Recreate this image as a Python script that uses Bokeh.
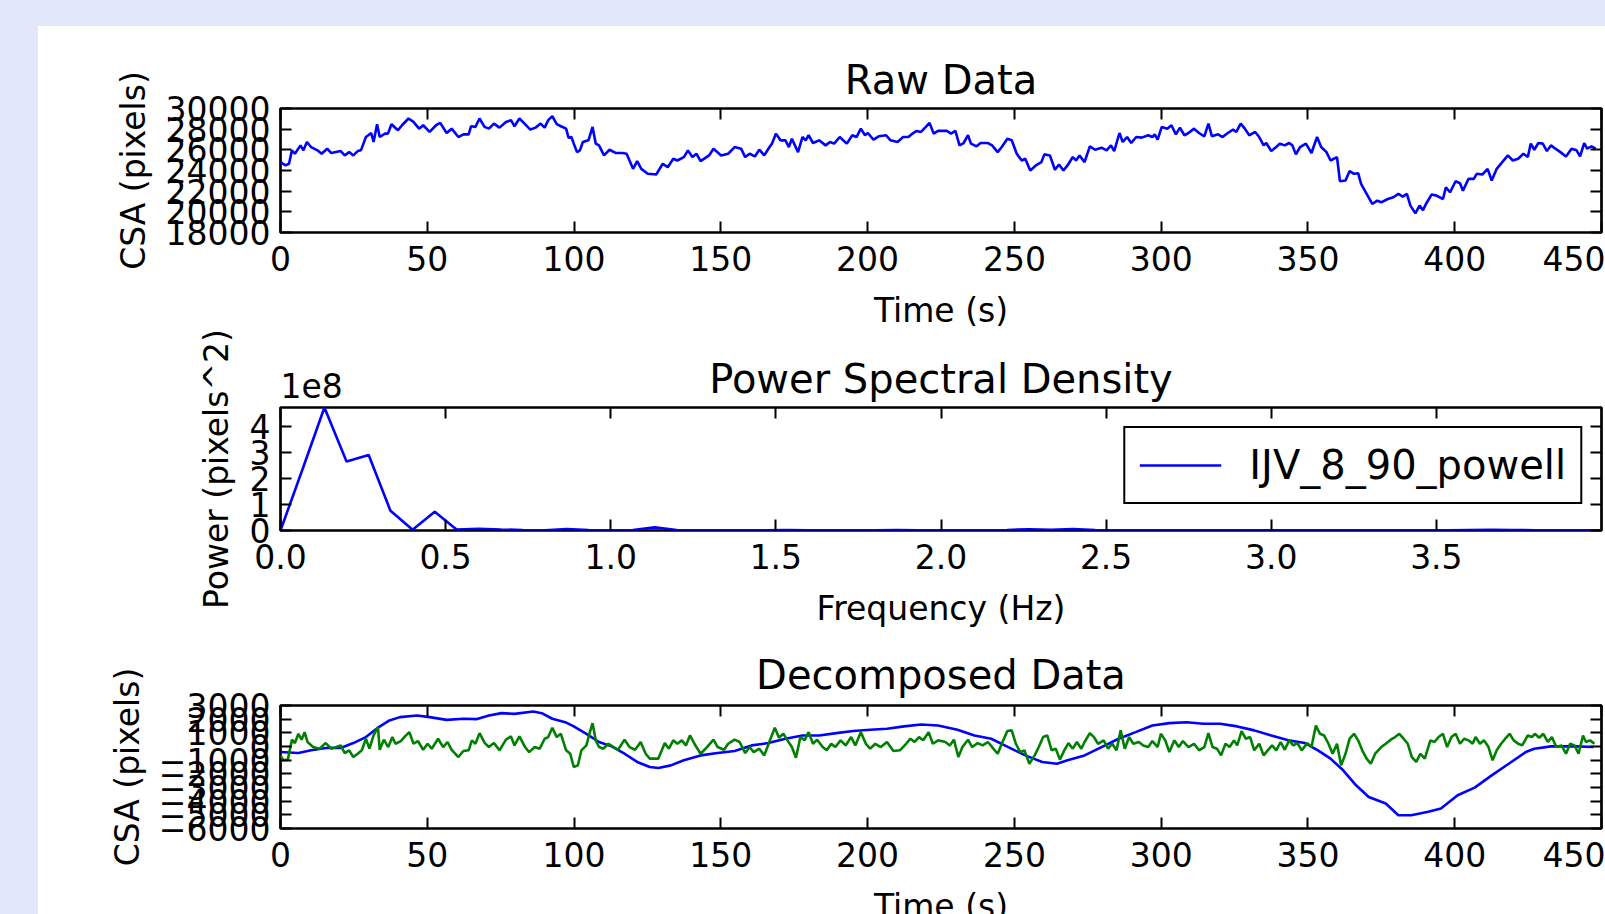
from bokeh.plotting import figure
from bokeh.layouts import column
from bokeh.models import (Range1d, LinearAxis, FixedTicker, CustomJSTickFormatter,
                          Legend, LegendItem, GlobalInlineStyleSheet)
from bokeh.embed import file_html
from bokeh.resources import INLINE

# ---------------- data ----------------
raw_time = [
    0.0, 1.7, 2.9, 3.9, 4.9, 6.8, 7.8, 9.0, 10.4, 12.6,
    14.0, 15.9, 17.3, 20.5, 21.9, 23.4, 24.8, 26.3, 27.4, 29.1,
    30.9, 31.7, 32.9, 33.8, 35.6, 36.6, 37.8, 40.0, 41.4, 43.6,
    45.3, 47.2, 48.6, 50.8, 53.0, 54.4, 56.6, 58.3, 60.6, 62.3,
    64.1, 64.9, 66.4, 67.8, 69.5, 71.0, 72.7, 74.6, 76.8, 78.5,
    79.7, 81.4, 83.3, 85.1, 86.9, 88.6, 90.0, 91.2, 92.6, 94.1,
    95.5, 97.3, 98.1, 99.1, 99.9, 101.0, 102.0, 103.0, 104.9, 106.3,
    107.4, 108.5, 110.2, 112.1, 114.3, 116.5, 117.9, 120.1, 121.5, 122.9,
    125.1, 128.0, 130.2, 131.9, 133.8, 135.2, 137.4, 138.8, 140.3, 141.7,
    143.1, 146.0, 147.5, 150.1, 152.5, 154.7, 156.9, 158.3, 159.8, 161.6,
    163.1, 164.8, 166.2, 167.4, 168.8, 170.3, 172.0, 173.2, 174.2, 176.3,
    177.8, 178.9, 179.9, 181.4, 183.5, 185.7, 187.2, 188.6, 190.5, 192.9,
    194.8, 196.2, 197.7, 199.1, 200.1, 202.0, 203.8, 206.3, 207.8, 210.2,
    212.1, 213.9, 215.3, 216.7, 218.2, 219.6, 221.1, 222.5, 224.0,
    227.0, 228.4, 229.9, 231.3, 232.7, 234.2, 235.2, 237.1, 238.5, 241.0,
    242.4, 244.3, 245.7, 247.6, 249.1, 250.8, 252.5, 253.7, 255.4, 257.3,
    259.2, 260.2, 262.1, 263.8, 265.2, 266.7, 268.1, 269.9, 271.0, 272.2,
    273.9, 275.7, 277.5, 279.7, 281.4, 282.9, 284.0, 285.8, 286.9, 288.4,
    289.8, 291.5, 293.4, 295.6, 297.0, 297.8, 298.8, 300.2, 302.1, 303.5,
    305.0, 306.4, 307.9, 309.3, 311.2, 312.9, 314.7, 316.1, 317.3, 319.4,
    320.9, 322.7, 324.5, 325.6, 327.1, 328.5, 330.0, 332.0, 333.4, 334.9,
    335.8, 337.5, 339.2, 340.4, 342.1, 343.6, 344.7, 345.9, 347.3, 349.3,
    351.2, 353.1, 354.5, 356.3, 357.7, 359.9, 360.9, 362.8, 364.2, 365.7,
    367.1, 368.1, 370.0, 371.9, 373.6, 375.0, 377.2, 379.1, 380.8, 382.3,
    383.7, 384.9, 386.6, 388.0, 389.2, 390.2, 392.1, 393.8, 396.0, 397.0,
    398.4, 400.3, 401.8, 402.8, 404.7, 406.5, 407.5, 409.4, 411.2, 412.6,
    414.3, 416.2, 418.1, 419.8, 421.6, 423.4, 424.9, 425.9, 427.1, 428.5,
    430.0, 431.4, 432.8, 434.3, 436.0, 437.9, 439.8, 441.5, 442.7, 444.1,
    445.1, 446.6, 448.0,
]
raw_csa = [
    24810, 24490, 24650, 25950, 25620, 26430, 25950, 26760, 26270, 25950,
    25620, 26110, 25690, 25880, 25460, 25780, 25460, 25880, 25950, 27240,
    27630, 26760, 28480, 27240, 27570, 27570, 28480, 27890, 28380, 29030,
    28700, 28050, 28380, 27730, 28380, 28610, 27630, 28050, 27240, 27500,
    27500, 28280, 28220, 29030, 28220, 28050, 28540, 28150, 28700, 28870,
    28280, 29030, 28480, 27960, 28150, 28540, 28150, 28870, 29250, 28480,
    28280, 28050, 27180, 27240, 26600, 25780, 25950, 26760, 26920, 28220,
    26600, 26430, 25460, 26010, 25690, 25690, 25620, 24160, 24910, 24160,
    23680, 23610, 24650, 24320, 25140, 24970, 25300, 25950, 25300, 25620,
    24910, 25460, 26110, 25460, 25620, 26270, 26110, 25300, 25620, 25360,
    26010, 25460, 26110, 26600, 27570, 26920, 26920, 26270, 27080, 25780,
    27240, 26920, 27410, 26660, 26920, 26430, 26760, 26600, 27240, 26600,
    27410, 27240, 28050, 27410, 27630, 26980, 27310, 27410, 26920, 26760,
    27240, 27240, 27570, 27830, 27730, 28150, 28610, 27570, 27830,
    27830, 27570, 27830, 26430, 26660, 27410, 26600, 26340, 26660, 26660,
    26430, 25780, 26270, 27080, 26920, 25620, 24970, 25140, 24000, 24490,
    24810, 25560, 25460, 24070, 24580, 24000, 24490, 25300, 24970, 25460,
    24810, 26340, 26010, 26210, 25950, 26430, 25880, 27630, 26760, 27240,
    26660, 27240, 27180, 27410, 27240, 27500, 26980, 28220, 28050, 28380,
    27500, 28150, 27410, 27630, 28050, 27630, 27310, 28540, 27310, 27500,
    27240, 27630, 27960, 27730, 28540, 28050, 27410, 27730, 27240, 26430,
    26660, 25880, 26270, 26600, 26430, 26660, 26430, 25560, 26270, 26600,
    25690, 27240, 26270, 25780, 24970, 25300, 22960, 23030, 23940, 23680,
    23740, 22700, 21730, 20760, 21080, 20920, 21240, 21410, 21730, 21470,
    21730, 20600, 19850, 20600, 20170, 20760, 21670, 21570, 21240, 22380,
    21890, 22960, 22770, 22050, 23190, 23190, 23680, 23610, 24160, 23030,
    24160, 24810, 25460, 24970, 25140, 25620, 25300, 26600, 26010, 26660,
    26600, 25880, 26430, 26110, 25780, 25360, 26110, 25950, 25360, 26660,
    26110, 26340, 26110,
]

psd_freq = [
    0.0, 0.067, 0.133, 0.2, 0.267, 0.333, 0.4, 0.467, 0.533, 0.6,
    0.667, 0.733, 0.8, 0.867, 0.933, 1.0, 1.067, 1.133, 1.2, 1.267,
    1.333, 1.4, 1.467, 1.533, 1.6, 1.667, 1.733, 1.8, 1.867, 1.933,
    2.0, 2.067, 2.133, 2.2, 2.267, 2.333, 2.4, 2.467, 2.533, 2.6,
    2.667, 2.733, 2.8, 2.867, 2.933, 3.0, 3.067, 3.133, 3.2, 3.267,
    3.333, 3.4, 3.467, 3.533, 3.6, 3.667, 3.733, 3.8, 3.867, 3.933, 4.0,
]
psd_power = [
    0.0, 2.37e8, 4.74e8, 2.66e8, 2.91e8, 0.76e8, 0.03e8, 0.72e8, 0.04e8, 0.07e8,
    0.04e8, 0.02e8, 0.01e8, 0.06e8, 0.02e8, 0.01e8, 0.02e8, 0.12e8, 0.02e8, 0.01e8,
    0.01e8, 0.01e8, 0.01e8, 0.02e8, 0.01e8, 0.01e8, 0.01e8, 0.01e8, 0.02e8, 0.01e8,
    0.01e8, 0.01e8, 0.01e8, 0.02e8, 0.05e8, 0.03e8, 0.06e8, 0.02e8, 0.01e8, 0.01e8,
    0.01e8, 0.01e8, 0.01e8, 0.01e8, 0.01e8, 0.01e8, 0.01e8, 0.01e8, 0.01e8, 0.01e8,
    0.01e8, 0.01e8, 0.01e8, 0.01e8, 0.02e8, 0.03e8, 0.02e8, 0.01e8, 0.01e8, 0.01e8, 0.01e8,
]

trend_time = [
    0.0, 6.1, 10.4, 16.2, 20.5, 24.8, 29.1, 33.5, 37.1, 40.7,
    46.5, 50.8, 56.6, 62.3, 66.7, 71.0, 75.3, 79.7, 86.1, 89.0,
    92.6, 97.0, 99.9, 104.2, 108.5, 112.8, 117.2, 121.5, 125.8, 128.7,
    133.0, 137.4, 143.1, 148.9, 154.7, 160.5, 166.2, 172.0, 177.8, 183.5,
    189.3, 195.1, 200.9, 206.6, 212.4, 218.2, 224.0, 230.6, 236.4, 242.1,
    247.9, 253.7, 259.5, 264.5, 268.1, 273.9, 279.7, 285.5, 291.3, 297.0,
    302.8, 308.6, 314.4, 320.1, 325.9, 331.7, 337.5, 343.3, 349.0, 353.4,
    357.7, 362.0, 366.4, 370.7, 376.5, 380.8, 385.2, 391.0, 395.3, 401.0,
    406.8, 412.6, 418.4, 424.2, 427.1, 432.8, 441.5, 447.3,
]
trend_csa = [
    -400, -480, -280, -90, -110, 250, 690, 1420, 1910, 2150,
    2270, 2150, 1950, 2030, 2000, 2270, 2440, 2390, 2560, 2440,
    2030, 1780, 1470, 930, 330, 10, -530, -1130, -1500, -1570,
    -1380, -1010, -650, -480, -330, 80, 250, 570, 810, 810,
    980, 1130, 1230, 1300, 1470, 1610, 1540, 1230, 810, 570,
    -40, -650, -1130, -1260, -1010, -650, -40, 570, 1050, 1540,
    1710, 1780, 1660, 1660, 1470, 1180, 810, 450, 250, -280,
    -890, -1740, -2840, -3690, -4170, -5030, -5030, -4780, -4540, -3570,
    -3010, -2110, -1260, -400, -160, 10, 10, -40,
]

resid_time = [
    0.0, 1.0, 2.5, 3.9, 4.9, 6.1, 7.2, 8.2, 9.2, 11.1,
    13.3, 15.4, 17.3, 19.0, 20.5, 21.9, 23.4, 24.8, 26.3, 27.7,
    29.1, 30.3, 31.7, 33.2, 33.8, 35.2, 36.7, 38.1, 39.2, 41.0,
    42.4, 43.9, 45.3, 46.8, 48.6, 50.1, 51.5, 53.7, 55.4, 56.9,
    58.3, 60.6, 62.3, 64.1, 65.2, 66.4, 67.8, 69.6, 71.0, 72.7,
    74.6, 76.8, 78.5, 79.7, 81.4, 83.3, 84.7, 86.6, 88.3, 90.0,
    91.2, 92.6, 94.1, 95.5, 97.3, 98.7, 99.9, 101.3, 102.5, 104.2,
    105.3, 106.3, 107.4, 108.5, 110.0, 111.7, 113.1, 115.0, 117.2, 118.9,
    120.8, 122.7, 124.4, 125.8, 128.7, 130.9, 132.3, 133.8, 135.2, 136.7,
    138.1, 139.5, 141.0, 143.1, 145.3, 147.5, 148.9, 151.1, 152.5, 154.7,
    156.4, 158.3, 159.8, 161.2, 163.1, 164.8, 166.5, 168.4, 169.8, 171.3,
    172.7, 174.2, 175.6, 177.1, 178.5, 179.9, 181.4, 182.8, 184.7, 186.1,
    187.6, 189.0, 190.8, 192.5, 194.4, 195.8, 197.7, 199.4, 200.9, 202.6,
    204.5, 206.6, 208.8, 211.0, 213.1, 214.6, 216.0, 217.5, 218.9, 220.8,
    222.2, 224.0, 226.5, 228.0, 229.4, 230.9, 232.3, 234.2, 235.6, 237.5,
    239.2, 241.0, 242.4, 244.3, 246.2, 247.6, 249.1, 250.5, 252.0, 253.4,
    255.1, 256.9, 258.3, 259.8, 261.2, 262.7, 264.1, 265.5, 267.0, 268.4,
    269.9, 271.3, 272.8, 273.9, 275.7, 277.1, 278.5, 280.4, 281.9, 283.3,
    284.8, 286.2, 287.6, 289.1, 290.5, 292.4, 293.9, 295.6, 297.0, 298.8,
    299.9, 301.4, 302.8, 304.5, 306.0, 307.4, 309.3, 311.2, 312.9, 314.7,
    316.1, 317.5, 319.0, 320.4, 321.9, 323.3, 324.8, 325.9, 327.4, 328.8,
    330.3, 331.7, 333.4, 334.9, 336.3, 337.8, 339.2, 340.7, 342.1, 343.6,
    345.0, 346.4, 347.9, 349.8, 351.2, 352.7, 354.1, 355.5, 357.0, 358.4,
    359.9, 361.3, 362.8, 364.2, 365.7, 367.1, 368.5, 370.0, 371.4, 372.9,
    375.0, 376.5, 378.2, 379.7, 381.1, 382.6, 384.0, 385.4, 386.9, 388.3,
    389.8, 391.7, 393.1, 394.5, 396.0, 397.4, 398.9, 400.3, 401.8, 403.2,
    404.7, 406.1, 407.1, 408.6, 410.0, 411.5, 412.9, 414.3, 415.8, 417.2,
    418.7, 420.1, 421.6, 423.0, 424.9, 426.3, 427.3, 428.8, 430.2, 431.7,
    433.1, 434.6, 436.4, 437.9, 439.3, 440.8, 442.2, 443.7, 444.7, 446.1,
    447.6,
]
resid_csa = [
    -650, -1010, -960, 500, 250, 930, 500, 1050, 330, -40,
    -160, 250, -160, -40, 80, -480, -280, -770, -530, -280,
    570, -160, 810, 1420, -240, 500, -40, 690, 200, 400,
    740, 1050, 200, 400, -240, 200, -160, 570, -40, 330,
    -240, -770, -330, -280, 450, 200, 980, 250, -40, 250,
    -280, 500, 740, 80, 740, -40, -410, -40, -160, 570,
    690, 1370, 690, 930, -280, -530, -1500, -1380, -280, 80,
    980, 1710, 450, -40, -160, 200, 10, -240, 500, -40,
    -240, 330, -530, -890, -890, 250, -160, 450, 200, 450,
    80, 810, 200, -530, -40, 500, -40, -240, 200, 500,
    330, -480, -40, -410, -160, -650, 330, 1370, 640, 930,
    450, -40, -820, 690, 450, 1050, 200, 500, -40, -280,
    200, -40, 450, 80, 690, 80, 1050, 200, -160, 200,
    -40, 330, -330, -280, 200, 570, 330, 690, 450, 1050,
    200, 450, 330, 80, 500, -770, -40, 500, -40, 250,
    80, 330, -40, -530, 450, 1130, 1180, 200, -410, -280,
    -1260, -650, -40, 690, 810, -280, -160, -960, -280, 250,
    -160, 330, -160, 330, 980, 690, 200, 450, -160, 200,
    -280, 1180, -160, 690, 200, 330, 80, -40, 400, -40,
    930, 450, -410, 450, -40, 400, -40, 200, -280, -40,
    980, -40, -160, -650, 200, -40, 450, 80, 1130, 570,
    690, -280, 200, -650, -280, 80, -280, 330, -240, 450,
    80, 250, -280, 250, -40, 1540, 930, 810, 200, -530,
    200, -1380, -530, 570, 930, 450, -280, -890, -1260, -530,
    -40, 200, 500, 690, 930, 570, 200, -770, -1130, -530,
    -890, 450, 330, 690, 930, -40, 690, 930, 200, 570,
    450, 200, 690, 200, 450, -40, -1010, -280, 200, 570,
    930, 450, 200, 80, 810, 690, 930, 640, 930, 330,
    690, -40, 80, -530, 200, 80, -530, 810, 330, 450,
    200,
]

raw_xticks = [0, 50, 100, 150, 200, 250, 300, 350, 400, 450]
raw_yticks = [18000, 20000, 22000, 24000, 26000, 28000, 30000]
psd_xticks = [0.0, 0.5, 1.0, 1.5, 2.0, 2.5, 3.0, 3.5]
psd_yticks = [0, 1e8, 2e8, 3e8, 4e8]
dec_yticks = [-6000, -5000, -4000, -3000, -2000, -1000, 0, 1000, 2000, 3000]

# ---------------- styling ----------------
FONT = "DejaVu Sans"
LABEL_SIZE = "33px"
TITLE_SIZE = "40px"
FIG_W = 1567
LEFT = 242
RIGHT = 4
LW = 2.6
BLUE = "#0000ff"
GREEN = "#008000"


def build(title, height, top, bottom, xr, yr, xticks, yticks, xlabel, ylabel,
          ylabel_standoff, title_standoff, xfmt=None, yfmt=None):
    p = figure(width=FIG_W, height=height, x_range=xr, y_range=yr,
               output_backend="svg", toolbar_location=None, title=title,
               min_border_left=LEFT, min_border_right=RIGHT,
               min_border_top=top, min_border_bottom=bottom)
    if p.title is not None:
        p.title.text_font = FONT
        p.title.text_font_size = TITLE_SIZE
        p.title.text_font_style = "normal"
        p.title.text_color = "black"
        p.title.align = "center"
        p.title.standoff = title_standoff
    p.background_fill_color = "white"
    p.border_fill_color = "white"
    p.outline_line_color = "black"
    p.outline_line_width = 2.7
    p.xgrid.visible = False
    p.ygrid.visible = False
    xa = p.below[0]
    ya = p.left[0]
    for ax, ticks, fmt in ((xa, xticks, xfmt), (ya, yticks, yfmt)):
        ax.ticker = FixedTicker(ticks=ticks)
        if fmt is not None:
            ax.formatter = fmt
        ax.axis_line_color = None
        ax.major_tick_in = 11
        ax.major_tick_out = 0
        ax.major_tick_line_width = 2
        ax.major_tick_line_color = "black"
        ax.minor_tick_line_color = None
        ax.major_label_text_font = FONT
        ax.major_label_text_font_size = LABEL_SIZE
        ax.major_label_text_color = "black"
        ax.axis_label_text_font = FONT
        ax.axis_label_text_font_size = LABEL_SIZE
        ax.axis_label_text_font_style = "normal"
        ax.axis_label_text_color = "black"
    xa.major_label_standoff = 13
    xa.axis_label = xlabel
    xa.axis_label_standoff = 17
    ya.major_label_standoff = 10
    ya.axis_label = ylabel
    ya.axis_label_standoff = ylabel_standoff
    # mirrored inward ticks on the top and right edges (matplotlib classic look)
    for side, ticks in (("above", xticks), ("right", yticks)):
        ax = LinearAxis(ticker=FixedTicker(ticks=ticks),
                        formatter=CustomJSTickFormatter(code='return ""'),
                        major_tick_in=11, major_tick_out=0,
                        major_tick_line_width=2, major_tick_line_color="black",
                        minor_tick_line_color=None, axis_line_color=None,
                        major_label_text_font_size="0px", major_label_standoff=0)
        p.add_layout(ax, side)
    return p


# ---- Raw Data ----
p1 = build("Raw Data", 308, 82, 102, Range1d(0, 450), Range1d(18000, 30000),
           raw_xticks, raw_yticks, "Time (s)", "CSA (pixels)", 10, 11)
p1.line(raw_time, raw_csa, line_color=BLUE, line_width=LW)

# ---- Power Spectral Density ----
psd_top = max(psd_power)
p2 = build(None, 311, 80, 108, Range1d(0, 4.0),
           Range1d(0, psd_top), psd_xticks, psd_yticks,
           "Frequency (Hz)", "Power (pixels^2)", 11, 12,
           xfmt=CustomJSTickFormatter(code="return tick.toFixed(1)"),
           yfmt=CustomJSTickFormatter(code="return (tick / 1e8).toFixed(0)"))
# this panel slightly overlaps the one above (as in the original figure), so its
# margin area is transparent
p2.border_fill_color = None
p2.margin = (-7, 0, 0, 0)
r_psd = p2.line(psd_freq, psd_power, line_color=BLUE, line_width=LW)
legend = Legend(items=[LegendItem(label="IJV_8_90_powell", renderers=[r_psd])],
                location="top_right", margin=19, padding=14, spacing=0,
                glyph_width=82, glyph_height=20, label_standoff=28,
                label_text_font=FONT, label_text_font_size="40px",
                label_text_color="black",
                border_line_color="black", border_line_width=2.5,
                border_line_alpha=1.0,
                background_fill_color="white", background_fill_alpha=1.0)
p2.add_layout(legend)
# top strip: the "1e8" offset text at the left and the centred heading
head_axis = LinearAxis(ticker=FixedTicker(ticks=[0.094]),
                       formatter=CustomJSTickFormatter(code='return "1e8"'),
                       major_tick_in=0, major_tick_out=0,
                       major_tick_line_color=None, minor_tick_line_color=None,
                       axis_line_color=None, major_label_standoff=10,
                       major_label_text_font=FONT,
                       major_label_text_font_size=LABEL_SIZE,
                       major_label_text_color="black",
                       axis_label="Power Spectral Density",
                       axis_label_standoff=-32,
                       axis_label_text_font=FONT,
                       axis_label_text_font_size=TITLE_SIZE,
                       axis_label_text_font_style="normal",
                       axis_label_text_color="black")
p2.add_layout(head_axis, "above")

# ---- Decomposed Data ----
p3 = build("Decomposed Data", 290, 67, 100, Range1d(0, 450), Range1d(-6000, 3000),
           raw_xticks, dec_yticks, "Time (s)", "CSA (pixels)", 9, 15,
           yfmt=CustomJSTickFormatter(
               code="return tick < 0 ? '\\u2212' + Math.abs(tick) : String(tick)"))
p3.line(trend_time, trend_csa, line_color=BLUE, line_width=LW)
p3.line(resid_time, resid_csa, line_color=GREEN, line_width=LW)

page = column(p1, p2, p3, margin=(26, 0, 0, 38), spacing=0,
              styles={"background-color": "white"},
              stylesheets=[GlobalInlineStyleSheet(
                  css="html, body { background-color: #e1e6f8; overflow: hidden; }")])

open("out.html", "w").write(file_html(page, INLINE))
